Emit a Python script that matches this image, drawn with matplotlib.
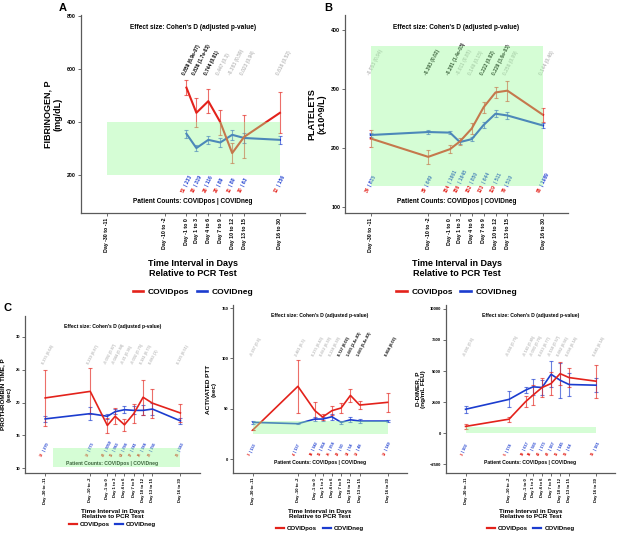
import numpy as np
import matplotlib
matplotlib.use("Agg")
import matplotlib.pyplot as plt
from matplotlib.colors import to_rgba
from matplotlib.patches import Rectangle

plt.rcParams["font.family"] = ["Liberation Sans", "DejaVu Sans"]
plt.rcParams["font.weight"] = "bold"
plt.rcParams["axes.labelweight"] = "bold"

RED = "#e3221b"
BLUE = "#1b3ccf"
GRAY = "#bdbdbd"
GREEN = "#98fb98"
nan = np.nan

# time intervals (plotted at the interval midpoint)
intervals = ["Day -30 to -11", "Day -10 to -2", "Day -1 to 0", "Day 1 to 3", "Day 4 to 6",
             "Day 7 to 9", "Day 10 to 12", "Day 13 to 15", "Day 16 to 30"]
days_mid = [-20.5, -6, -0.5, 2, 5, 8, 11, 14, 23]

# fibrinogen
fib_pos = [nan, nan, 530, 435, 479, 400, 283, 344, 435]
fib_pos_err = [nan, nan, 29, 55, 46, 47, 37, 81, 78]
fib_neg = [nan, nan, 356, 302, 333, 323, 352, 340, 333]
fib_neg_err = [nan, nan, 15, 12, 15, 16, 20, 20, 14]
fib_effect = ["", "", "0.859 (6.9e-07)", "0.836 (1.7e-03)", "0.744 (0.01)", "0.447 (0.3)",
              "-0.383 (0.59)", "0.023 (0.94)", "0.616 (0.52)"]
fib_sig = [0, 0, 1, 1, 1, 0, 0, 0, 0]
fib_n_pos = ["", "", "51", "18", "26", "20", "11", "10", "12"]
fib_n_neg = ["", "", "233", "319", "116", "89", "80", "63", "156"]

# platelets
plt_pos = [216, 185, 198, 211, 233, 269, 294, 297, 256]
plt_pos_err = [14, 12, 7, 6, 9, 9, 9, 17, 12]
plt_neg = [222, 227, 226, 210, 215, 239, 258, 255, 238]
plt_neg_err = [4, 4, 3, 4, 4, 5, 6, 6, 4]
plt_effect = ["-0.053 (0.94)", "-0.393 (0.02)", "-0.281 (1.4e-03)", "-0.011 (0.85)", "0.149 (0.15)",
              "0.222 (0.02)", "0.229 (3.6e-03)", "0.256 (0.09)", "0.144 (0.46)"]
plt_sig = [0, 1, 1, 0, 0, 1, 1, 0, 0]
plt_n_pos = ["34", "39", "154", "156", "152", "133", "119", "79", "95"]
plt_n_neg = ["815", "649", "1661", "1648", "850", "644", "511", "510", "1089"]

# prothrombin time
pt_pos = [20.7, 21.7, 16.5, 17.9, 16.6, 18.3, 20.8, 19.9, 18.4]
pt_pos_err = [4.3, 3.5, 1.2, 1.2, 0.9, 1.5, 2.7, 2.2, 1.4]
pt_neg = [17.5, 18.3, 17.9, 18.6, 18.9, 18.8, 18.8, 19.0, 17.2]
pt_neg_err = [0.5, 1.0, 0.4, 0.4, 0.55, 0.6, 0.75, 0.95, 0.5]
pt_effect = ["0.375 (0.64)", "0.219 (0.87)", "-0.092 (0.87)", "-0.044 (0.84)", "-0.21 (0.36)",
             "-0.002 (0.75)", "0.181 (0.73)", "0.083 (1)", "0.125 (0.51)"]
pt_sig = [0, 0, 0, 0, 0, 0, 0, 0, 0]
pt_n_pos = ["12", "12", "42", "36", "64", "37", "28", "23", "21"]
pt_n_neg = ["270", "273", "1059", "983", "298", "241", "184", "156", "583"]

# activated PTT
ptt_pos = [29.1, 72.2, 48, 41.7, 48, 50.7, 63.2, 53.6, 56.3]
ptt_pos_err = [0, 26.5, 8.3, 3.2, 4.2, 5, 6.1, 3.8, 9.6]
ptt_neg = [36.4, 35.1, 39.7, 39.7, 42, 36.4, 39, 37.7, 37.7]
ptt_neg_err = [1.6, 0.8, 2.2, 2.2, 2.8, 1.8, 2.6, 2, 1]
ptt_effect = ["-0.267 (0.6)", "2.461 (0.3)", "0.275 (0.43)", "0.062 (0.39)", "0.234 (0.39)",
              "0.727 (0.02)", "1.065 (2.4e-03)", "1.065 (5.4e-03)", "0.804 (0.02)"]
ptt_sig = [0, 0, 0, 0, 0, 1, 1, 1, 1]
ptt_n_pos = ["3", "4", "38", "36", "25", "22", "14", "19", "19"]
ptt_n_neg = ["133", "137", "342", "364", "354", "50", "54", "48", "149"]

# D-dimer
dd_pos = [532, 1117, 2527, 3059, 3670, 3989, 4787, 4468, 4176]
dd_pos_err = [213, 213, 426, 798, 771, 930, 930, 798, 1330]
dd_neg = [1915, 2713, 3457, 3723, 3670, 4734, 4255, 3910, 3856]
dd_neg_err = [293, 652, 266, 665, 598, 1037, 1400, 904, 571]
dd_effect = ["-0.291 (0.6)", "-0.266 (0.75)", "-0.143 (0.45)", "-0.093 (0.76)", "0.013 (0.77)",
             "-0.158 (0.57)", "0.082 (0.56)", "0.098 (0.14)", "0.045 (0.14)"]
dd_sig = [0, 0, 0, 0, 0, 0, 0, 0, 0]
dd_n_pos = ["3", "5", "39", "38", "40", "42", "36", "31", "31"]
dd_n_neg = ["102", "174", "617", "566", "173", "167", "145", "64", "161"]

ANGLE = 63


def draw_panel(ax, pos, pos_err, neg, neg_err, effect, sig, n_pos, n_neg,
               ylabel, ylim, yticks, ref, big):
    x = np.array(days_mid)
    lw = 1.5 if big else 1.2
    fs_ann = 3.5 if big else 2.8
    fs_title = 4.7 if big else 3.6
    fs_tick = 3.8 if big else 3.0
    fs_lab = 6.5 if big else 4.6
    for y, e, c in [(neg, neg_err, BLUE), (pos, pos_err, RED)]:
        ax.errorbar(x, y, yerr=e, color=c, ecolor=to_rgba(c, 0.65), elinewidth=0.8, capsize=1.3,
                    capthick=0.8, lw=lw, zorder=3)
    tr = ax.get_xaxis_transform()
    ang = np.deg2rad(ANGLE)
    for xi, lab, s, a, b in zip(x, effect, sig, n_pos, n_neg):
        if lab:
            ax.text(xi, 0.69, lab, transform=tr, rotation=ANGLE, rotation_mode="anchor",
                    ha="left", va="bottom", fontsize=fs_ann, color="black" if s else GRAY)
        if a:
            ax.annotate(a, (xi, 0.10), xycoords=tr, xytext=(-1.5, 0), textcoords="offset points",
                        rotation=ANGLE, rotation_mode="anchor", ha="left", va="bottom",
                        fontsize=fs_ann, color=RED)
            d = (len(a) + 0.6) * 0.56 * fs_ann
            ax.annotate("| " + b, (xi, 0.10), xycoords=tr,
                        xytext=(-1.5 + d * np.cos(ang), d * np.sin(ang)), textcoords="offset points",
                        rotation=ANGLE, rotation_mode="anchor", ha="left", va="bottom",
                        fontsize=fs_ann, color=BLUE)
    ax.text(0.5, 0.935, "Effect size: Cohen's D (adjusted p-value)", transform=ax.transAxes,
            ha="center", va="center", fontsize=fs_title)
    ax.text(0.5, 0.06, "Patient Counts: COVIDpos | COVIDneg", transform=ax.transAxes,
            ha="center", va="center", fontsize=fs_title)
    lo, hi, x0, x1 = ref
    ax.add_patch(Rectangle((x0, lo), x1 - x0, hi - lo, facecolor=GREEN, alpha=0.4,
                           edgecolor="none", zorder=10))
    ax.set_xlim(-27, 29.3)
    ax.set_ylim(*ylim)
    ax.set_yticks(yticks)
    ax.set_xticks(x)
    ax.set_xticklabels(intervals, rotation=90, fontsize=fs_tick, fontweight="bold")
    ax.tick_params(axis="y", labelsize=fs_tick, length=2, width=0.6, color="#555555", pad=1.5)
    ax.tick_params(axis="x", length=2, width=0.6, color="#555555", pad=1.5)
    for s in ["top", "right"]:
        ax.spines[s].set_visible(False)
    for s in ["left", "bottom"]:
        ax.spines[s].set_color("#5a5a5a")
        ax.spines[s].set_linewidth(0.9)
    ax.set_ylabel(ylabel, fontsize=fs_lab, labelpad=3, fontweight="bold")
    ax.set_xlabel("Time Interval in Days\nRelative to PCR Test", fontsize=fs_lab,
                  labelpad=5 if big else 3, fontweight="bold")
    h1, = ax.plot([], [], color=RED, lw=lw + 0.4)
    h2, = ax.plot([], [], color=BLUE, lw=lw + 0.4)
    ax.legend([h1, h2], ["COVIDpos", "COVIDneg"], loc="center", ncol=2, frameon=False,
              bbox_to_anchor=(0.5, -0.40 if big else -0.33),
              prop={"size": (fs_lab - 0.5) if big else fs_lab - 0.2, "weight": "bold"},
              handlelength=1.3, handletextpad=0.5, columnspacing=0.9)


fig = plt.figure(figsize=(6.17, 5.38), dpi=100)
axA = fig.add_axes([0.1313, 0.6041, 0.3630, 0.3680])
axB = fig.add_axes([0.5592, 0.6041, 0.3614, 0.3680])
axC = fig.add_axes([0.0405, 0.1208, 0.2836, 0.2918])
axD = fig.add_axes([0.3776, 0.1208, 0.2820, 0.3123])
axE = fig.add_axes([0.7229, 0.1208, 0.2739, 0.3123])

draw_panel(axA, fib_pos, fib_pos_err, fib_neg, fib_neg_err, fib_effect, fib_sig, fib_n_pos, fib_n_neg,
           "FIBRINOGEN, P\n(mg/dL)", (57, 804), [200, 400, 600, 800], (200, 400, -20.5, 23), True)
draw_panel(axB, plt_pos, plt_pos_err, plt_neg, plt_neg_err, plt_effect, plt_sig, plt_n_pos, plt_n_neg,
           "PLATELETS\n(x10^9/L)", (90, 425), [100, 200, 300, 400], (135, 372, -20.5, 23), True)
draw_panel(axC, pt_pos, pt_pos_err, pt_neg, pt_neg_err, pt_effect, pt_sig, pt_n_pos, pt_n_neg,
           "PROTHROMBIN TIME, P\n(sec)", (9.24, 33.2), [10, 15, 20, 25, 30], (10.2, 13.0, -18, 23), False)
draw_panel(axD, ptt_pos, ptt_pos_err, ptt_neg, ptt_neg_err, ptt_effect, ptt_sig, ptt_n_pos, ptt_n_neg,
           "ACTIVATED PTT\n(sec)", (-13.9, 153), [0, 50, 100, 150], (25.2, 37.4, -20.5, 23), False)
draw_panel(axE, dd_pos, dd_pos_err, dd_neg, dd_neg_err, dd_effect, dd_sig, dd_n_pos, dd_n_neg,
           "D-DIMER, P\n(ng/mL FEU)", (-3226, 10323), [-2500, 0, 2500, 5000, 7500, 10000],
           (0, 500, -20.5, 23), False)

fig.text(63 / 617, 1 - 8 / 538, "A", fontsize=8, fontweight="bold", ha="center", va="center")
fig.text(328 / 617, 1 - 8 / 538, "B", fontsize=8, fontweight="bold", ha="center", va="center")
fig.text(8 / 617, 1 - 308 / 538, "C", fontsize=8, fontweight="bold", ha="center", va="center")

fig.savefig("out.png", dpi=100)
